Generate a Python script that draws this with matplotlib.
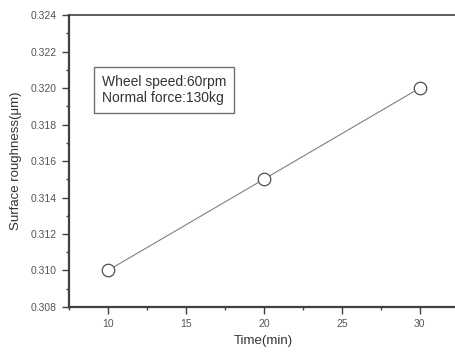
import matplotlib
matplotlib.use("Agg")
import matplotlib.pyplot as plt
from matplotlib.ticker import MultipleLocator

plt.rcParams['font.family'] = ['Liberation Sans', 'DejaVu Sans']

# data
time_min = [10, 20, 30]
roughness = [0.310, 0.315, 0.320]

X_LABEL = "Time(min)"
Y_LABEL = "Surface roughness(\u03bcm)"
NOTE = "Wheel speed:60rpm\nNormal force:130kg"

fig = plt.figure(figsize=(4.56, 3.52), dpi=100)
ax = fig.add_axes([0.151, 0.128, 0.855, 0.829])

ax.plot(time_min, roughness, color="#808080", lw=0.8,
        marker="o", ms=9, mfc="white", mec="#505050", mew=0.9)

ax.set_xlim(7.5, 32.5)
ax.set_ylim(0.308, 0.324)
ax.xaxis.set_major_locator(MultipleLocator(5))
ax.xaxis.set_minor_locator(MultipleLocator(2.5))
ax.yaxis.set_major_locator(MultipleLocator(0.002))
ax.yaxis.set_minor_locator(MultipleLocator(0.001))
ax.yaxis.set_major_formatter(plt.FormatStrFormatter("%.3f"))

for s in ["left", "bottom"]:
    ax.spines[s].set_linewidth(1.6)
    ax.spines[s].set_color("#404040")
ax.spines["top"].set_linewidth(1.2)
ax.spines["top"].set_color("#404040")
ax.spines["right"].set_visible(False)

ax.tick_params(which="major", direction="out", length=5, width=1.0,
               colors="#404040", labelsize=7.5, labelcolor="#555555", pad=4)
ax.tick_params(which="minor", direction="out", length=2.5, width=1.0, colors="#404040")

ax.set_xlabel(X_LABEL, fontsize=9.5, color="#333333", labelpad=4)
ax.set_ylabel(Y_LABEL, fontsize=9.5, color="#333333", labelpad=6)

ax.text(0.085, 0.743, NOTE, transform=ax.transAxes, fontsize=10, color="#333333",
        va="center", ha="left", linespacing=1.2,
        bbox=dict(boxstyle="square,pad=0.55", fc="white", ec="#707070", lw=1.0))

fig.savefig("out.png", dpi=100)
